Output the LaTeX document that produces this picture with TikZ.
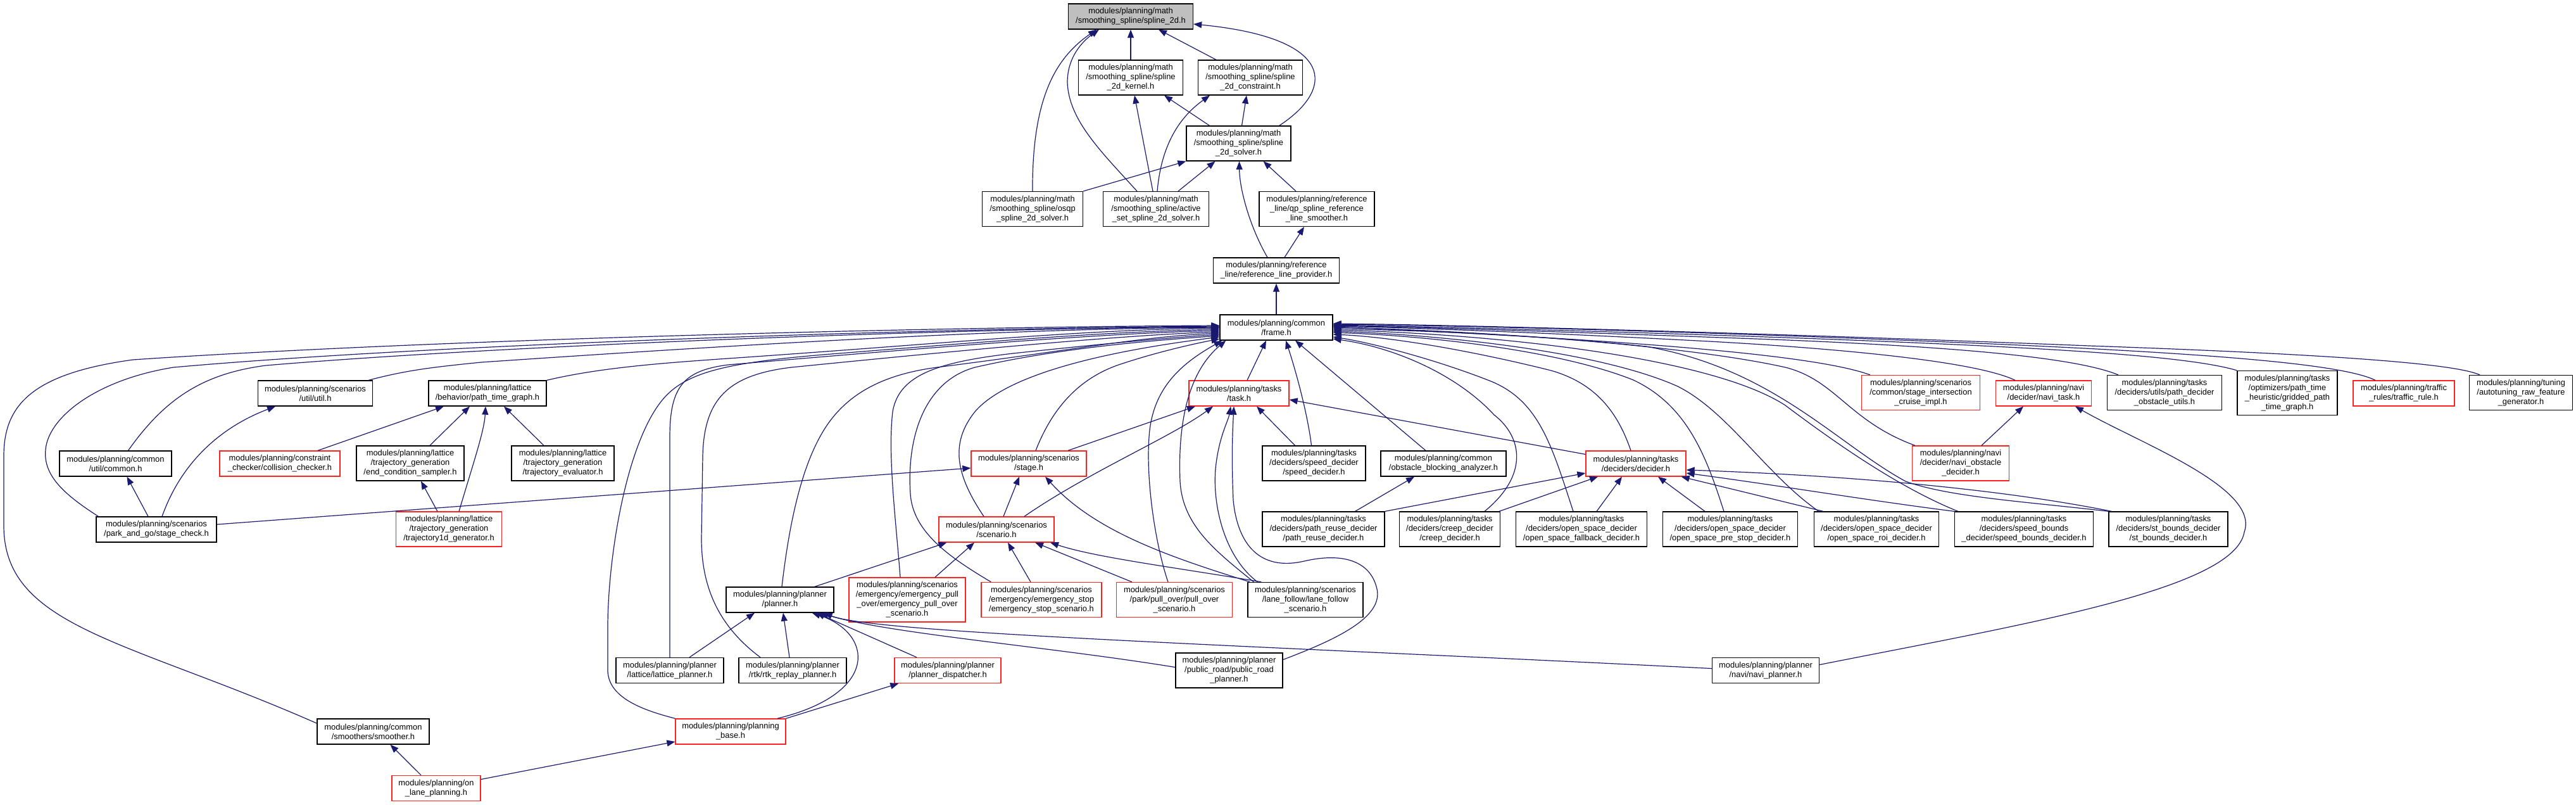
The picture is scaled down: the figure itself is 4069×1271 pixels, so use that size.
\documentclass[tikz,border=0pt]{standalone}
\usepackage{fontspec}
\setmainfont{Liberation Sans}
\usetikzlibrary{arrows.meta}
\definecolor{edgec}{HTML}{191970}
\definecolor{redb}{HTML}{FF2020}
\definecolor{topfill}{HTML}{BFBFBF}
\tikzset{
  nb/.style={draw=black, line width=1.3pt, fill=white, rectangle, inner sep=0pt, align=center,
             font=\fontsize{12.9}{15}\selectfont},
  nr/.style={nb, draw=redb},
  dep/.style={draw=edgec, line width=1.2pt, -{Triangle[length=13pt,width=10pt]}},
}
\begin{document}
\begin{tikzpicture}[x=1pt,y=-1pt]
\fill[white] (0,0) rectangle (4069,1271);
\useasboundingbox (0,0) rectangle (4069,1271);

% ---------- nodes ----------
\node[nb, fill=topfill, minimum width=197pt, minimum height=40pt] (spline2d) at (1786,26) {modules/planning/math\\/smoothing\_spline/spline\_2d.h};
\node[nb, minimum width=165pt, minimum height=55pt] (kernel) at (1786,122.5) {modules/planning/math\\/smoothing\_spline/spline\\\_2d\_kernel.h};
\node[nb, minimum width=165pt, minimum height=55pt] (constraint) at (1975,122.5) {modules/planning/math\\/smoothing\_spline/spline\\\_2d\_constraint.h};
\node[nb, minimum width=165pt, minimum height=55pt] (solver) at (1956.5,226.5) {modules/planning/math\\/smoothing\_spline/spline\\\_2d\_solver.h};
\node[nb, minimum width=159pt, minimum height=55pt] (osqp) at (1631,330) {modules/planning/math\\/smoothing\_spline/osqp\\\_spline\_2d\_solver.h};
\node[nb, minimum width=167pt, minimum height=55pt] (active) at (1826,330) {modules/planning/math\\/smoothing\_spline/active\\\_set\_spline\_2d\_solver.h};
\node[nb, minimum width=182pt, minimum height=55pt] (qpsm) at (2080,330) {modules/planning/reference\\\_line/qp\_spline\_reference\\\_line\_smoother.h};
\node[nb, minimum width=199pt, minimum height=40pt] (provider) at (2016,427) {modules/planning/reference\\\_line/reference\_line\_provider.h};
\node[nb, minimum width=178pt, minimum height=40pt] (frame) at (2016,517) {modules/planning/common\\/frame.h};

\node[nb, minimum width=181pt, minimum height=40pt] (util) at (498,621) {modules/planning/scenarios\\/util/util.h};
\node[nb, minimum width=186pt, minimum height=40pt] (ptg) at (770,621) {modules/planning/lattice\\/behavior/path\_time\_graph.h};
\node[nr, minimum width=158pt, minimum height=40pt] (task) at (1957,621) {modules/planning/tasks\\/task.h};
\node[nr, minimum width=187pt, minimum height=55pt] (sic) at (3034,620) {modules/planning/scenarios\\/common/stage\_intersection\\\_cruise\_impl.h};
\node[nr, minimum width=151pt, minimum height=40pt] (navitask) at (3228,621) {modules/planning/navi\\/decider/navi\_task.h};
\node[nb, minimum width=181pt, minimum height=55pt] (pdou) at (3419,620) {modules/planning/tasks\\/deciders/utils/path\_decider\\\_obstacle\_utils.h};
\node[nb, minimum width=158pt, minimum height=70pt] (gptg) at (3613,620.5) {modules/planning/tasks\\/optimizers/path\_time\\\_heuristic/gridded\_path\\\_time\_graph.h};
\node[nr, minimum width=160pt, minimum height=40pt] (traffic) at (3797,621) {modules/planning/traffic\\\_rules/traffic\_rule.h};
\node[nb, minimum width=163pt, minimum height=55pt] (autotune) at (3982,620) {modules/planning/tuning\\/autotuning\_raw\_feature\\\_generator.h};

\node[nb, minimum width=177pt, minimum height=40pt] (common) at (182.5,732) {modules/planning/common\\/util/common.h};
\node[nr, minimum width=190pt, minimum height=40pt] (collision) at (442,732) {modules/planning/constraint\\\_checker/collision\_checker.h};
\node[nb, minimum width=170pt, minimum height=55pt] (endcond) at (648,731.5) {modules/planning/lattice\\/trajectory\_generation\\/end\_condition\_sampler.h};
\node[nb, minimum width=162pt, minimum height=55pt] (trajeval) at (889,731.5) {modules/planning/lattice\\/trajectory\_generation\\/trajectory\_evaluator.h};
\node[nr, minimum width=182pt, minimum height=40pt] (stage) at (1625,732) {modules/planning/scenarios\\/stage.h};
\node[nb, minimum width=163pt, minimum height=55pt] (speeddec) at (2075.5,731.5) {modules/planning/tasks\\/deciders/speed\_decider\\/speed\_decider.h};
\node[nb, minimum width=198pt, minimum height=40pt] (oba) at (2280,732) {modules/planning/common\\/obstacle\_blocking\_analyzer.h};
\node[nr, minimum width=158pt, minimum height=40pt] (decider) at (2584,732) {modules/planning/tasks\\/deciders/decider.h};
\node[nr, minimum width=153pt, minimum height=55pt] (naviobs) at (3097,731.5) {modules/planning/navi\\/decider/navi\_obstacle\\\_decider.h};

\node[nb, minimum width=190pt, minimum height=40pt] (stagecheck) at (247,836) {modules/planning/scenarios\\/park\_and\_go/stage\_check.h};
\node[nr, minimum width=167pt, minimum height=55pt] (traj1d) at (709,835.5) {modules/planning/lattice\\/trajectory\_generation\\/trajectory1d\_generator.h};
\node[nr, minimum width=182pt, minimum height=40pt] (scenario) at (1574,836) {modules/planning/scenarios\\/scenario.h};
\node[nb, minimum width=193pt, minimum height=55pt] (pathreuse) at (2090.5,835.5) {modules/planning/tasks\\/deciders/path\_reuse\_decider\\/path\_reuse\_decider.h};
\node[nb, minimum width=159pt, minimum height=55pt] (creep) at (2290,835.5) {modules/planning/tasks\\/deciders/creep\_decider\\/creep\_decider.h};
\node[nb, minimum width=207pt, minimum height=55pt] (osfb) at (2498,835.5) {modules/planning/tasks\\/deciders/open\_space\_decider\\/open\_space\_fallback\_decider.h};
\node[nb, minimum width=213pt, minimum height=55pt] (osps) at (2733,835.5) {modules/planning/tasks\\/deciders/open\_space\_decider\\/open\_space\_pre\_stop\_decider.h};
\node[nb, minimum width=197pt, minimum height=55pt] (osroi) at (2964,835.5) {modules/planning/tasks\\/deciders/open\_space\_decider\\/open\_space\_roi\_decider.h};
\node[nb, minimum width=219pt, minimum height=55pt] (speedb) at (3197,835.5) {modules/planning/tasks\\/deciders/speed\_bounds\\\_decider/speed\_bounds\_decider.h};
\node[nb, minimum width=188pt, minimum height=55pt] (stb) at (3425,835.5) {modules/planning/tasks\\/deciders/st\_bounds\_decider\\/st\_bounds\_decider.h};

\node[nb, minimum width=170pt, minimum height=40pt] (planner) at (1232,947) {modules/planning/planner\\/planner.h};
\node[nr, minimum width=184pt, minimum height=70pt] (epo) at (1433,947) {modules/planning/scenarios\\/emergency/emergency\_pull\\\_over/emergency\_pull\_over\\\_scenario.h};
\node[nr, minimum width=190pt, minimum height=55pt] (estop) at (1645,947) {modules/planning/scenarios\\/emergency/emergency\_stop\\/emergency\_stop\_scenario.h};
\node[nr, minimum width=183pt, minimum height=55pt] (pullover) at (1855,947) {modules/planning/scenarios\\/park/pull\_over/pull\_over\\\_scenario.h};
\node[nb, minimum width=182pt, minimum height=55pt] (lanefollow) at (2062,947) {modules/planning/scenarios\\/lane\_follow/lane\_follow\\\_scenario.h};

\node[nb, minimum width=170pt, minimum height=40pt] (lattplan) at (1058,1058.5) {modules/planning/planner\\/lattice/lattice\_planner.h};
\node[nb, minimum width=170pt, minimum height=40pt] (rtk) at (1252,1058.5) {modules/planning/planner\\/rtk/rtk\_replay\_planner.h};
\node[nr, minimum width=168pt, minimum height=40pt] (dispatcher) at (1497,1058.5) {modules/planning/planner\\/planner\_dispatcher.h};
\node[nb, minimum width=169pt, minimum height=55pt] (publicroad) at (1941.5,1058.5) {modules/planning/planner\\/public\_road/public\_road\\\_planner.h};
\node[nb, minimum width=169pt, minimum height=40pt] (naviplan) at (2789,1058.5) {modules/planning/planner\\/navi/navi\_planner.h};

\node[nb, minimum width=177pt, minimum height=40pt] (smoother) at (589.5,1155) {modules/planning/common\\/smoothers/smoother.h};
\node[nr, minimum width=174pt, minimum height=40pt] (pbase) at (1154,1155) {modules/planning/planning\\\_base.h};
\node[nr, minimum width=140pt, minimum height=40pt] (onlane) at (689,1244.5) {modules/planning/on\\\_lane\_planning.h};

% ---------- top part ----------
\draw[dep] (kernel.north) -- (spline2d.south);
\draw[dep] ([xshift=-54pt]constraint.north) -- ([xshift=44pt]spline2d.south);
\draw[dep] ([xshift=-19pt]solver.north east) .. controls (2110,140) and (2110,60) .. ([yshift=-12pt]spline2d.east);
\draw[dep] (osqp.north) .. controls (1630,150) and (1670,90) .. ([xshift=-54pt]spline2d.south);
\draw[dep] ([xshift=-30pt]active.north) .. controls (1740,240) and (1688,190) .. (1686,130) .. controls (1686,90) and (1710,65) .. ([xshift=-50pt]spline2d.south);
\draw[dep] ([xshift=-46pt]solver.north) -- ([xshift=53pt]kernel.south);
\draw[dep] ([xshift=5pt]solver.north) -- ([xshift=-6pt]constraint.south);
\draw[dep] ([xshift=-5pt]active.north) -- ([xshift=6pt]kernel.south);
\draw[dep] ([xshift=2pt]active.north) .. controls (1835,220) and (1870,180) .. ([xshift=-64pt]constraint.south);
\draw[dep] (osqp.north east) -- (solver.south west);
\draw[dep] ([xshift=35pt]active.north) -- ([xshift=-37pt]solver.south);
\draw[dep] ([xshift=-33pt]qpsm.north) -- ([xshift=39pt]solver.south);
\draw[dep] ([xshift=-14pt]provider.north) .. controls (1975,360) and (1958,300) .. ([xshift=1pt]solver.south);
\draw[dep] ([xshift=13pt]provider.north) -- ([xshift=-20pt]qpsm.south);
\draw[dep] (frame.north) -- (provider.south);

% ---------- into frame from the left ----------
\draw[dep] ([yshift=13pt]smoother.west) .. controls (200,1010) and (6,990) .. (6,830) -- (6,720) .. controls (6,640) and (50,590) .. (210,568) .. controls (700,535) and (1500,516) .. ([yshift=3pt]frame.west);
\draw[dep] ([xshift=4pt]stagecheck.north west) .. controls (100,780) and (68,750) .. (72,710) .. controls (76,660) and (150,600) .. (274,580) .. controls (700,542) and (1500,518) .. ([yshift=2pt]frame.west);
\draw[dep] ([xshift=20pt]common.north) .. controls (260,630) and (320,590) .. (420,577) .. controls (800,545) and (1500,519) .. ([yshift=1pt]frame.west);
\draw[dep] ([xshift=-7pt]util.north east) .. controls (640,585) and (680,580) .. (760,572) .. controls (1200,542) and (1600,519) .. (frame.west);
\draw[dep] (ptg.north east) .. controls (950,580) and (1050,573) .. (1150,566) .. controls (1500,542) and (1700,521) .. ([yshift=-1pt]frame.west);
\draw[dep] (pbase.north west) .. controls (1010,1120) and (962,1100) .. (960,1060) -- (960,990) .. controls (960,880) and (990,690) .. (1052,625) .. controls (1090,585) and (1160,572) .. (1300,560) .. controls (1600,536) and (1750,524) .. ([yshift=-3pt]frame.west);
\draw[dep] (lattplan.north) -- (1058,690) .. controls (1058,610) and (1080,585) .. (1150,576) .. controls (1500,546) and (1750,526) .. ([yshift=-5pt]frame.west);
\draw[dep] ([xshift=-51pt]rtk.north) .. controls (1130,985) and (1108,920) .. (1108,850) -- (1110,720) .. controls (1112,630) and (1150,592) .. (1250,580) .. controls (1550,550) and (1780,529) .. ([yshift=-7pt]frame.west);
\draw[dep] ([xshift=3pt]planner.north) .. controls (1245,840) and (1262,750) .. (1295,690) .. controls (1330,625) and (1390,592) .. (1480,580) .. controls (1700,552) and (1800,532) .. ([yshift=-9pt]frame.west);
\draw[dep] ([xshift=-11pt]epo.north) .. controls (1415,820) and (1402,720) .. (1410,650) .. controls (1420,592) and (1480,572) .. (1600,558) .. controls (1750,542) and (1850,533) .. ([yshift=-11pt]frame.west);
\draw[dep] ([xshift=16pt]estop.north west) .. controls (1500,880) and (1442,840) .. (1438,780) .. controls (1432,690) and (1460,602) .. (1540,580) .. controls (1680,548) and (1830,537) .. ([yshift=-13pt]frame.west);
\draw[dep] ([xshift=-20pt]scenario.north) .. controls (1510,750) and (1500,700) .. (1540,650) .. controls (1600,580) and (1800,548) .. ([yshift=-15pt]frame.west);
\draw[dep] ([xshift=11pt]stage.north) .. controls (1660,650) and (1700,598) .. (1770,575) .. controls (1830,555) and (1890,542) .. ([yshift=-18pt]frame.west);
\draw[dep] ([xshift=-10pt]pullover.north) .. controls (1825,860) and (1810,760) .. (1815,690) .. controls (1820,610) and (1870,572) .. ([xshift=4pt]frame.south west);
\draw[dep] ([xshift=10pt]lanefollow.north west) .. controls (1920,870) and (1868,830) .. (1864,760) .. controls (1860,660) and (1880,585) .. ([xshift=10pt]frame.south west);
\draw[dep] ([xshift=13pt]task.north) -- ([xshift=-16pt]frame.south);
\draw[dep] ([xshift=-4pt]speeddec.north) .. controls (2065,650) and (2045,580) .. ([xshift=15pt]frame.south);
\draw[dep] ([xshift=-28pt]oba.north) -- ([xshift=30pt]frame.south);

% ---------- into frame from the right ----------
\draw[dep] ([xshift=55pt]creep.north) .. controls (2415,750) and (2405,690) .. (2360,655) .. controls (2300,590) and (2200,548) .. ([yshift=-18pt]frame.east);
\draw[dep] ([xshift=-13pt]osfb.north) .. controls (2450,700) and (2430,630) .. (2350,600) .. controls (2260,565) and (2160,540) .. ([yshift=-15pt]frame.east);
\draw[dep] ([xshift=-8pt]decider.north) .. controls (2555,650) and (2520,605) .. (2450,585) .. controls (2330,555) and (2200,532) .. ([yshift=-11pt]frame.east);
\draw[dep] ([xshift=-10pt]osps.north) .. controls (2695,720) and (2665,640) .. (2580,600) .. controls (2460,552) and (2250,530) .. ([yshift=-8pt]frame.east);
\draw[dep] ([xshift=8pt]osroi.north west) .. controls (2790,750) and (2730,650) .. (2650,610) .. controls (2520,552) and (2260,528) .. ([yshift=-6pt]frame.east);
\draw[dep] ([xshift=6pt]speedb.north west) .. controls (3000,770) and (2900,700) .. (2820,640) .. controls (2700,562) and (2350,527) .. ([yshift=-4pt]frame.east);
\draw[dep] (stb.north west) .. controls (3200,792) and (3080,785) .. (3010,760) .. controls (2900,700) and (2800,582) .. (2600,547) .. controls (2400,526) and (2200,521) .. ([yshift=-2pt]frame.east);
\draw[dep] ([xshift=5pt]naviobs.north west) .. controls (2920,665) and (2900,600) .. (2820,580) .. controls (2650,542) and (2300,521) .. (frame.east);
\draw[dep] ([xshift=14pt]sic.north west) .. controls (2880,565) and (2650,540) .. ([yshift=1pt]frame.east);
\draw[dep] ([xshift=-45pt]navitask.north) .. controls (3120,570) and (2900,550) .. (2700,539) .. controls (2400,523) and (2200,517) .. ([yshift=2pt]frame.east);
\draw[dep] ([xshift=18pt]pdou.north west) .. controls (3280,565) and (3100,548) .. (2800,536) .. controls (2400,521) and (2200,516) .. ([yshift=3pt]frame.east);
\draw[dep] (gptg.north west) .. controls (3450,560) and (3200,548) .. (2900,536) .. controls (2500,521) and (2200,515) .. ([yshift=4pt]frame.east);
\draw[dep] ([xshift=-45pt]traffic.north) .. controls (3700,575) and (3500,558) .. (3100,541) .. controls (2700,524) and (2300,514) .. ([yshift=5pt]frame.east);
\draw[dep] ([xshift=17pt]autotune.north west) .. controls (3880,575) and (3700,560) .. (3300,546) .. controls (2800,526) and (2300,513) .. ([yshift=6pt]frame.east);

% ---------- task ----------
\draw[dep] ([xshift=62pt]stage.north) -- ([xshift=-69pt]task.south);
\draw[dep] ([xshift=44pt]scenario.north) .. controls (1720,745) and (1850,690) .. ([xshift=-41pt]task.south);
\draw[dep] ([xshift=16pt]lanefollow.north west) .. controls (1935,880) and (1915,800) .. (1920,740) .. controls (1925,690) and (1940,665) .. ([xshift=-13pt]task.south);
\draw[dep] ([yshift=17pt]publicroad.east) .. controls (2110,1010) and (2185,975) .. (2175,930) .. controls (2165,885) and (2120,872) .. (2060,886) .. controls (1990,902) and (1955,860) .. (1948,790) .. controls (1945,720) and (1947,680) .. ([xshift=-8pt]task.south);
\draw[dep] ([xshift=-30pt]speeddec.north) -- ([xshift=28pt]task.south);
\draw[dep] ([yshift=-6pt]decider.north west) -- ([yshift=-10pt]task.east);

% ---------- stage / scenario ----------
\draw[dep] ([xshift=11pt]scenario.north) -- ([xshift=-15pt]stage.south);
\draw[dep] ([xshift=4pt]lanefollow.north west) .. controls (1850,880) and (1730,840) .. ([xshift=26pt]stage.south);
\draw[dep] ([yshift=8pt]stagecheck.east) -- ([yshift=-7pt]stage.west);
\draw[dep] ([xshift=-31pt]planner.north east) -- ([xshift=13pt]scenario.south west);
\draw[dep] ([xshift=44pt]epo.north) -- ([xshift=-35pt]scenario.south);
\draw[dep] ([xshift=-17pt]estop.north) -- ([xshift=18pt]scenario.south);
\draw[dep] ([xshift=-67pt]pullover.north) -- ([xshift=61pt]scenario.south);
\draw[dep] ([xshift=22pt]lanefollow.north west) .. controls (1850,895) and (1730,880) .. ([xshift=85pt]scenario.south);

% ---------- planner ----------
\draw[dep] ([xshift=31pt]lattplan.north) -- ([xshift=-40pt]planner.south);
\draw[dep] ([xshift=-5pt]rtk.north) -- ([xshift=5pt]planner.south);
\draw[dep] ([xshift=74pt]pbase.north) .. controls (1390,1095) and (1380,1000) .. ([xshift=-35pt]planner.south east);
\draw[dep] ([xshift=-49pt]dispatcher.north) -- ([xshift=-28pt]planner.south east);
\draw[dep] ([yshift=5pt]publicroad.west) .. controls (1650,1020) and (1400,1000) .. ([xshift=-22pt]planner.south east);
\draw[dep] ([yshift=3pt]naviplan.west) .. controls (2000,1020) and (1380,1000) .. ([xshift=-16pt]planner.south east);
\draw[dep] (pbase.north east) -- ([xshift=7pt]dispatcher.south west);
\draw[dep] ([yshift=14pt]onlane.east) -- ([yshift=-16pt]pbase.west);
\draw[dep] ([xshift=-24pt]onlane.north) -- ([xshift=27pt]smoother.south);

% ---------- lattice ----------
\draw[dep] ([xshift=60pt]collision.north) -- ([xshift=-69pt]ptg.south);
\draw[dep] ([xshift=31pt]endcond.north) -- ([xshift=-28pt]ptg.south);
\draw[dep] ([xshift=16pt]traj1d.north) .. controls (748,730) and (765,680) .. ([xshift=-3pt]ptg.south);
\draw[dep] ([xshift=-30pt]trajeval.north) -- ([xshift=26pt]ptg.south);
\draw[dep] ([xshift=-18pt]traj1d.north) -- ([xshift=17pt]endcond.south);
\draw[dep] ([xshift=-13pt]stagecheck.north) -- ([xshift=18pt]common.south);
\draw[dep] ([xshift=9pt]stagecheck.north) .. controls (290,720) and (360,670) .. ([xshift=-63pt]util.south);

% ---------- deciders ----------
\draw[dep] ([xshift=50pt]pathreuse.north) -- ([xshift=-46pt]oba.south);
\draw[dep] (pathreuse.north east) -- ([yshift=-15pt]decider.west);
\draw[dep] ([xshift=78pt]creep.north) -- ([xshift=-60pt]decider.south);
\draw[dep] ([xshift=24pt]osfb.north) -- ([xshift=-22pt]decider.south);
\draw[dep] ([xshift=-40pt]osps.north) -- ([xshift=35pt]decider.south);
\draw[dep] ([xshift=15pt]osroi.north west) -- ([xshift=-8pt]decider.south east);
\draw[dep] (speedb.north west) .. controls (2950,790) and (2800,765) .. ([yshift=-15pt]decider.east);
\draw[dep] ([xshift=5pt]stb.north west) .. controls (3150,770) and (2900,750) .. ([yshift=-10pt]decider.east);

% ---------- navi ----------
\draw[dep] ([xshift=33pt]naviobs.north) -- ([xshift=-32pt]navitask.south);
\draw[dep] ([yshift=9pt]naviplan.east) .. controls (3200,985) and (3530,930) .. (3545,840) .. controls (3570,770) and (3380,700) .. ([xshift=50pt]navitask.south);
\end{tikzpicture}
\end{document}
